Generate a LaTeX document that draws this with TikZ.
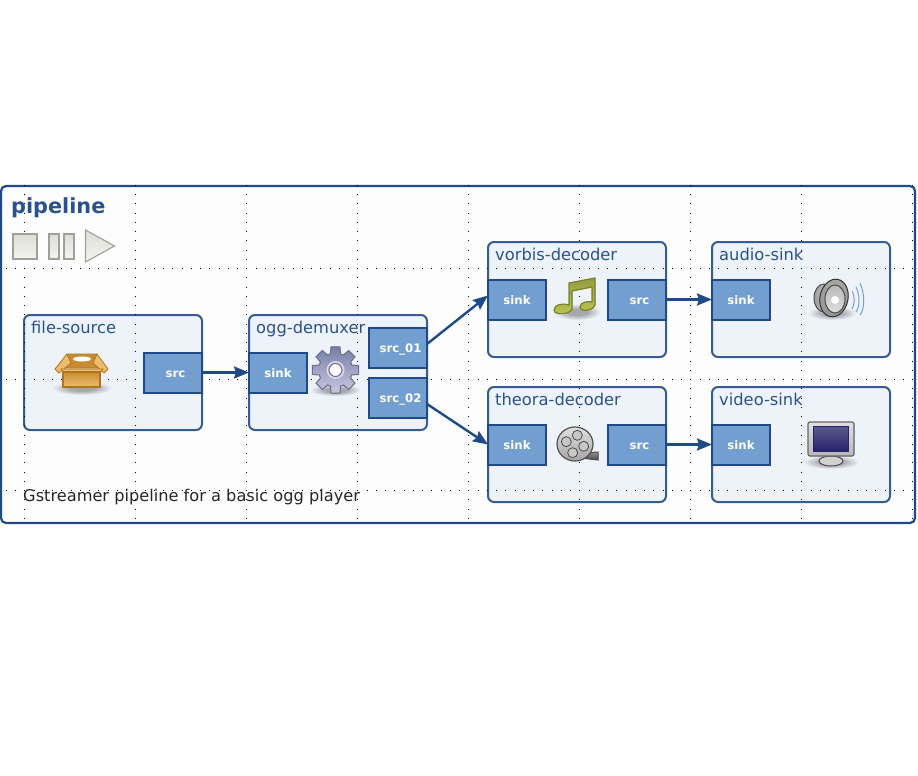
\documentclass[tikz,border=0pt]{standalone}
\usepackage{xcolor}
\usepackage{fontspec}
\setmainfont{DejaVu Sans}
\usetikzlibrary{arrows.meta, positioning}
\definecolor{primary}{RGB}{32, 74, 135}
\definecolor{titlecol}{RGB}{42, 82, 142}
\definecolor{eltbg}{RGB}{238, 243, 250}
\definecolor{padbg}{RGB}{114, 159, 207}
\definecolor{pipebg}{RGB}{253, 253, 253}
\definecolor{ctrltop}{RGB}{222, 222, 216}
\definecolor{ctrlbg}{RGB}{244, 244, 240}
\definecolor{ctrlline}{RGB}{160, 160, 155}
\definecolor{notecol}{RGB}{186, 196, 84}
\definecolor{noteline}{RGB}{120, 132, 40}
\definecolor{boxtop}{RGB}{200, 140, 50}
\definecolor{boxbot}{RGB}{238, 188, 112}
\definecolor{boxline}{RGB}{176, 116, 28}
\definecolor{shadowcol}{RGB}{165, 167, 172}
\definecolor{geartop}{RGB}{118, 128, 168}
\definecolor{gearbot}{RGB}{204, 198, 224}
\definecolor{gearline}{RGB}{110, 110, 135}
\definecolor{screentop}{RGB}{92, 92, 140}
\definecolor{screenbot}{RGB}{40, 34, 110}
\pgfdeclareradialshading{softshadow}{\pgfpoint{0cm}{0cm}}{color(0bp)=(shadowcol); color(10bp)=(shadowcol); color(25bp)=(eltbg); color(50bp)=(eltbg)}
\tikzset{
    font=\fontsize{16.3pt}{19pt}\selectfont,
    pipebox/.style={rectangle, rounded corners=5pt, draw=primary, fill=pipebg, line width=2.2pt, minimum width=914pt, minimum height=337pt, outer sep=0pt},
    element/.style={rectangle, rounded corners=6pt, draw=primary!90, fill=eltbg, line width=2pt, minimum width=178pt, minimum height=115pt, outer sep=0pt},
    pad/.style={rectangle, draw=primary, fill=padbg, line width=2pt, minimum width=58pt, minimum height=40pt, outer sep=0pt, text=white, inner sep=0pt, text height=9pt, text depth=0pt, font=\fontsize{11.7pt}{14pt}\selectfont\bfseries},
    srcpad/.style={pad, execute at begin node={\hspace*{5pt}}},
    eltname/.style={inner sep=0pt, text=titlecol},
    pipename/.style={inner sep=0pt, text=titlecol, font=\fontsize{20.8pt}{24pt}\selectfont\bfseries},
    caption/.style={inner sep=0pt, text=black!85, font=\fontsize{16.2pt}{19pt}\selectfont},
    control/.style={rectangle, draw=ctrlline, line width=1.1pt, top color=ctrltop, bottom color=ctrlbg, inner sep=0pt, outer sep=0pt},
    griddot/.style={black, line width=1pt, dash pattern=on 1pt off 8.25pt},
    arrow/.style={-{Stealth[length=15pt, width=12pt, inset=2pt]}, line width=2.4pt, color=primary},
    boxpic/.pic={
        \shade [shading=softshadow] (0,16) ellipse (30 and 7);
        \filldraw [draw=boxline, line width=.8pt, fill=boxtop] (-15,-18) -- (15,-18) -- (19,-4) -- (-19,-4) -- cycle;
        \fill [white] (0,-13) ellipse (9 and 2.5);
        \filldraw [draw=boxline, line width=.8pt, fill=boxbot] (-15,-18) -- (-27,-3) -- (-23,1) -- (-11,-9) -- cycle;
        \filldraw [draw=boxline, line width=.8pt, fill=boxbot] (15,-18) -- (26,-3) -- (22,1) -- (11,-9) -- cycle;
        \filldraw [draw=boxline, line width=.8pt, fill=boxbot] (-21,-3) -- (21,-3) -- (19,0) -- (-19,0) -- cycle;
        \filldraw [draw=boxline, line width=1.2pt, top color=boxtop, bottom color=boxbot] (-19,0) rectangle (18,15);
    },
    gearpic/.pic={
        \shade [shading=softshadow] (0,20) ellipse (26 and 6);
        \filldraw [draw=gearline, line width=1pt, top color=geartop, bottom color=gearbot] (107:17)
            \foreach \ang in {90,45,0,-45,-90,-135,180,135} {
                -- (\ang+17:17) -- (\ang+11:23.5) -- (\ang-11:23.5) -- (\ang-17:17)
            } -- cycle;
        \draw [gearbot!70!white, line width=2pt] (0,0) circle (8);
        \filldraw [draw=gearline, line width=1pt, fill=white] (0,0) circle (6.5);
    },
    notepic/.pic={
        \shade [shading=softshadow] (2,16) ellipse (24 and 8);
        \filldraw [draw=noteline, line width=1.2pt, top color=notecol!80!black, bottom color=notecol] (-6,-13) -- (20,-18) -- (20,9)
            .. controls (19,14) and (6,17) .. (5,11) .. controls (5,6) and (13,5) .. (17,6)
            -- (17,-9) -- (-3,-5) -- (-3,13) .. controls (-4,18) and (-21,20) .. (-21,14)
            .. controls (-21,8) and (-11,7) .. (-6,9) -- cycle;
    },
    speakerpic/.pic={
        \shade [shading=softshadow] (-6,15) ellipse (24 and 7);
        \filldraw [draw=gray!60!black, line width=1pt, left color=gray!75, right color=gray!40] (-14,0) ellipse (10 and 14);
        \filldraw [draw=gray!40!black, line width=1pt, top color=gray!70, bottom color=gray!85] (-4,0) ellipse [x radius=14, y radius=19, rotate=-12];
        \filldraw [draw=gray!60!black, line width=1pt, top color=gray!55, bottom color=gray!25] (-3,1) ellipse (10 and 14);
        \fill [white] (-3,2) circle (4);
        \draw [padbg, line width=1pt] (14,-7) .. controls (17,-2) and (17,6) .. (14,11);
        \draw [padbg, line width=1pt] (18,-11) .. controls (22,-3) and (22,9) .. (18,14);
        \draw [padbg, line width=1pt] (22,-15) .. controls (27,-4) and (27,11) .. (22,17);
    },
    reelpic/.pic={
        \filldraw [draw=gray!60!black, line width=1pt, top color=gray!85, bottom color=gray!60!black] (-5,15) -- (19,9) -- (22,9) -- (22,17) -- (5,15) -- cycle;
        \filldraw [draw=gray!65!black, line width=1.2pt, top color=gray!25, bottom color=gray!70] (-1,1) ellipse (18 and 17);
        \foreach \ang in {15,105,195,285} {
            \filldraw [draw=gray!60!black, line width=.8pt, fill=gray!45] ([shift={(-1,1)}]\ang:9) circle (5);
        }
    },
    screenpic/.pic={
        \shade [shading=softshadow] (0,18) ellipse (28 and 7);
        \filldraw [draw=gray!60!black, line width=1pt, fill=gray!35] (0,17) ellipse (12 and 5);
        \filldraw [draw=gray!80!black, line width=1.2pt, rounded corners=2pt, top color=gray!25, bottom color=gray!55] (-23,-22) rectangle (23,12);
        \filldraw [draw=screenbot, line width=.8pt, top color=screentop, bottom color=screenbot] (-18,-18) rectangle (17,7);
    }
}
\begin{document}
\begin{tikzpicture}[x=1pt, y=-1pt]

    \useasboundingbox (0,0) rectangle (918,776);

    \node (pipeline) [pipebox] at (458,354.5) {};

    \node (file)   [element] at (113,372.5) {};
    \node (demux)  [element, right=47pt of file] {};
    \node (vorbis) [element, right=61pt of demux, yshift=73pt] {};
    \node (theora) [element, below=30pt of vorbis] {};
    \node (audio)  [element, right=46pt of vorbis] {};
    \node (video)  [element, below=30pt of audio] {};

    \foreach \gx in {24.5,135.5,246.5,357.5,468.5,579.5,690.5,801.5,912.5} {
        \draw [griddot] (\gx,184.75) -- (\gx,520);
    }
    \foreach \gy in {268,379,490} {
        \draw [griddot] (5.75,\gy) -- (914,\gy);
    }

    \node (pipetitle) [pipename, below right=11pt and 10pt of pipeline.north west] {pipeline};
    \node (note) [caption, anchor=west] at (23,497) {Gstreamer pipeline for a basic ogg player};

    \node (stopbtn)   [control, minimum width=24pt, minimum height=25pt] at (25,246.5) {};
    \node (pausea)    [control, minimum width=10pt, minimum height=25pt, right=12pt of stopbtn] {};
    \node (pauseb)    [control, minimum width=10pt, minimum height=25pt, right=5pt of pausea] {};
    \filldraw [draw=ctrlline, line width=1.1pt, top color=ctrltop, bottom color=ctrlbg] (85.5,230) -- (114.5,246) -- (85.5,262) -- cycle;

    \node (filename)   [eltname, below right=6pt and 7pt of file.north west] {file-source};
    \node (demuxname)  [eltname, below right=6pt and 7pt of demux.north west] {ogg-demuxer};
    \node (vorbisname) [eltname, below right=6pt and 7pt of vorbis.north west] {vorbis-decoder};
    \node (theoraname) [eltname, below right=6pt and 7pt of theora.north west] {theora-decoder};
    \node (audioname)  [eltname, below right=6pt and 7pt of audio.north west] {audio-sink};
    \node (videoname)  [eltname, below right=6pt and 7pt of video.north west] {video-sink};

    \pic (boxicon) at (82,372) {boxpic};
    \pic (gearicon) at (335.5,370) {gearpic};
    \pic (noteicon) at (575,296) {notepic};
    \pic (speakericon) at (838,298) {speakerpic};
    \pic (reelicon) at (576,443) {reelpic};
    \pic (screenicon) at (831,444) {screenpic};

    \node (filesrc)    [srcpad, anchor=east] at (file.east) {src};
    \node (demuxsink)  [pad, anchor=west] at (demux.west) {sink};
    \node (demuxsrca)  [srcpad, anchor=east, yshift=24.5pt] at (demux.east) {src\_01};
    \node (demuxsrcb)  [srcpad, anchor=east, yshift=-25.5pt] at (demux.east) {src\_02};
    \node (vorbissink) [pad, anchor=west] at (vorbis.west) {sink};
    \node (vorbissrc)  [srcpad, anchor=east] at (vorbis.east) {src};
    \node (theorasink) [pad, anchor=west] at (theora.west) {sink};
    \node (theorasrc)  [srcpad, anchor=east] at (theora.east) {src};
    \node (audiosink)  [pad, anchor=west] at (audio.west) {sink};
    \node (videosink)  [pad, anchor=west] at (video.west) {sink};

    \draw [arrow] (filesrc.east) -- (demuxsink.west);
    \draw [arrow] ([yshift=4pt]demuxsrca.east) -- ([yshift=4pt]vorbissink.west);
    \draw [arrow] ([yshift=-6pt]demuxsrcb.east) -- (theorasink.west);
    \draw [arrow] (vorbissrc.east) -- (audiosink.west);
    \draw [arrow] (theorasrc.east) -- (videosink.west);

\end{tikzpicture}
\end{document}
